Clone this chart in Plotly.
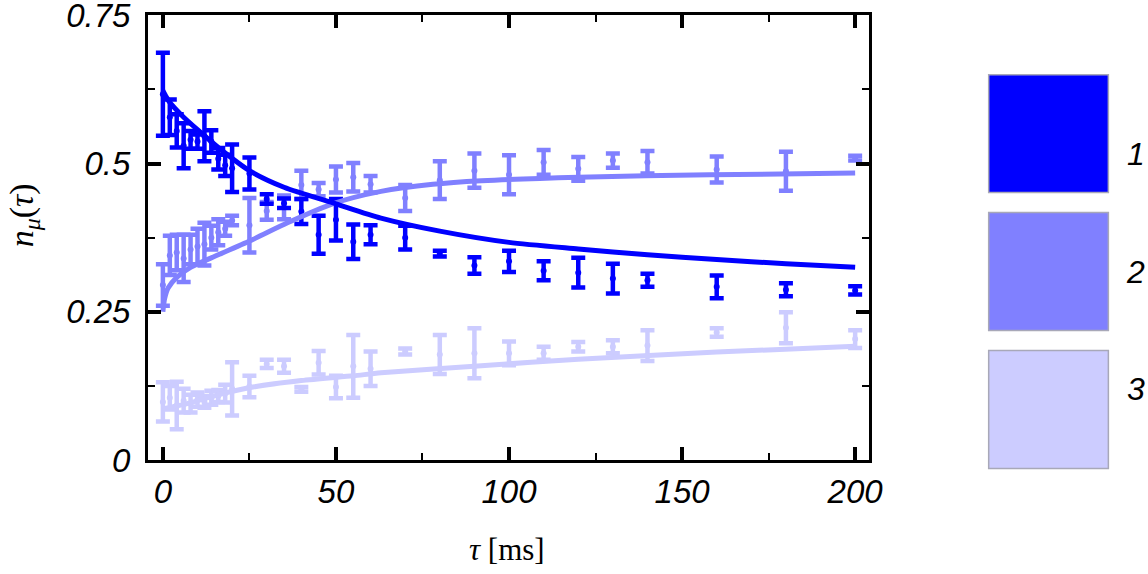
import plotly.graph_objects as go

# measured times (ms)
tau = [0, 2, 4, 6, 8, 10, 12, 14, 16, 18, 20, 25, 30, 35, 40, 45, 50, 55, 60,
       70, 80, 90, 100, 110, 120, 130, 140, 160, 180, 200]

# population of state 1, 2, 3 with error bars
n1 = [0.617, 0.578, 0.555, 0.530, 0.540, 0.537, 0.546, 0.537, 0.508, 0.497, 0.492,
      0.483, 0.440, 0.433, 0.419, 0.380, 0.405, 0.368, 0.380, 0.375, 0.348, 0.328,
      0.335, 0.319, 0.316, 0.306, 0.303, 0.292, 0.287, 0.286]
e1 = [0.070, 0.030, 0.028, 0.038, 0.015, 0.012, 0.042, 0.019, 0.018, 0.018, 0.040,
      0.027, 0.008, 0.008, 0.021, 0.032, 0.035, 0.029, 0.016, 0.020, 0.005, 0.014,
      0.018, 0.016, 0.025, 0.025, 0.011, 0.019, 0.011, 0.007]

n2 = [0.295, 0.345, 0.350, 0.340, 0.355, 0.360, 0.364, 0.375, 0.384, 0.390, 0.404,
      0.396, 0.420, 0.426, 0.464, 0.456, 0.473, 0.477, 0.465, 0.442, 0.472, 0.488,
      0.481, 0.502, 0.491, 0.505, 0.502, 0.490, 0.487, 0.509]
e2 = [0.035, 0.033, 0.030, 0.040, 0.025, 0.030, 0.036, 0.020, 0.022, 0.012, 0.008,
      0.046, 0.015, 0.020, 0.024, 0.011, 0.022, 0.024, 0.014, 0.022, 0.032, 0.029,
      0.033, 0.021, 0.020, 0.012, 0.019, 0.022, 0.033, 0.004]

n3 = [0.098, 0.105, 0.092, 0.100, 0.095, 0.102, 0.098, 0.105, 0.108, 0.112, 0.120,
      0.124, 0.162, 0.158, 0.119, 0.164, 0.123, 0.158, 0.154, 0.183, 0.178, 0.180,
      0.180, 0.180, 0.191, 0.191, 0.193, 0.215, 0.223, 0.204]
e3 = [0.033, 0.020, 0.040, 0.020, 0.015, 0.012, 0.010, 0.012, 0.010, 0.015, 0.045,
      0.018, 0.007, 0.011, 0.004, 0.020, 0.019, 0.053, 0.029, 0.005, 0.033, 0.042,
      0.020, 0.011, 0.008, 0.011, 0.026, 0.007, 0.026, 0.015]

# fitted curves
fit1_t = [0, 1, 2, 4, 6, 10, 16, 25, 35, 50, 63, 80, 100, 120, 140, 160, 180, 200]
fit1_y = [0.623, 0.612, 0.603, 0.590, 0.578, 0.557, 0.527, 0.488, 0.460, 0.432,
          0.408, 0.386, 0.367, 0.356, 0.346, 0.338, 0.331, 0.325]
fit2_t = [0, 0.5, 1.5, 4, 8, 16, 26, 36, 49, 63, 78, 92, 120, 158, 200]
fit2_y = [0.250, 0.272, 0.290, 0.308, 0.325, 0.346, 0.372, 0.400, 0.432, 0.453,
          0.465, 0.471, 0.477, 0.481, 0.484]
fit3_t = [0, 3, 7, 16, 26, 40, 55, 63, 92, 120, 160, 200]
fit3_y = [0.086, 0.090, 0.095, 0.110, 0.123, 0.134, 0.142, 0.147, 0.159, 0.170,
          0.182, 0.192]

labels = ["1", "2", "3"]
colors = ["#0000ff", "#8080ff", "#ccccff"]

series = [(n1, e1), (n2, e2), (n3, e3)]
fits = [(fit1_t, fit1_y), (fit2_t, fit2_y), (fit3_t, fit3_y)]

fig = go.Figure()

# error bar data, lightest first so the dark one sits on top
for i in [2, 1, 0]:
    y, e = series[i]
    fig.add_trace(go.Scatter(
        x=tau, y=y, mode="markers",
        marker=dict(color=colors[i], size=6),
        error_y=dict(type="data", array=e, color=colors[i], thickness=4.5, width=7),
        showlegend=False,
    ))

for i in [2, 1, 0]:
    t, y = fits[i]
    fig.add_trace(go.Scatter(
        x=t, y=y, mode="lines",
        line=dict(color=colors[i], width=5, shape="spline", smoothing=0.7),
        showlegend=False,
    ))

tick_font = dict(family="Liberation Sans, Arial", size=33, color="black", style="italic")

fig.update_xaxes(
    range=[-4.3, 204], tickvals=[0, 50, 100, 150, 200],
    ticks="inside", ticklen=13, tickwidth=4, tickcolor="black",
    minor=dict(ticks="inside", ticklen=7, tickwidth=2, dtick=25, tick0=0, tickcolor="black"),
    showline=True, linewidth=3, linecolor="black", mirror="allticks",
    showgrid=False, zeroline=False, tickfont=tick_font, ticklabelstandoff=0,
    ticklabeloverflow="allow", automargin=False,
)
fig.update_yaxes(
    range=[0, 0.7505], tickvals=[0, 0.25, 0.5, 0.75], ticktext=["0", "0.25", "0.5", "0.75"],
    ticks="inside", ticklen=13, tickwidth=4, tickcolor="black",
    minor=dict(ticks="inside", ticklen=7, tickwidth=2, dtick=0.125, tick0=0, tickcolor="black"),
    showline=True, linewidth=3, linecolor="black", mirror="allticks",
    showgrid=False, zeroline=False, tickfont=tick_font, ticklabelstandoff=8,
    ticklabeloverflow="allow", automargin=False,
)

# legend drawn as big swatches to the right
box_y = [(0.866, 0.601), (0.556, 0.291), (0.246, -0.019)]
shapes = []
annotations = []
for i in range(3):
    top, bot = box_y[i]
    shapes.append(dict(type="rect", xref="paper", yref="paper",
                       x0=1.166, x1=1.332, y0=bot, y1=top,
                       fillcolor=colors[i], line=dict(color="#a8a8b8", width=1.5)))
    annotations.append(dict(xref="paper", yref="paper", x=1.37, y=(top + bot) / 2,
                            text=labels[i], showarrow=False, xanchor="center",
                            font=dict(family="Liberation Sans, Arial", size=32,
                                      color="black", style="italic")))

annotations.append(dict(xref="paper", yref="paper", x=0.498, y=-0.2,
                        text="<i>τ</i> [ms]", showarrow=False, yanchor="middle",
                        font=dict(family="Liberation Serif, serif", size=31, color="black")))
annotations.append(dict(xref="paper", yref="paper", x=-0.172, y=0.55,
                        text="<i>n</i><sub><i>μ</i></sub>(<i>τ</i>)", showarrow=False,
                        textangle=-90, xanchor="center", yanchor="middle",
                        font=dict(family="Liberation Serif, serif", size=34, color="black")))

fig.update_layout(
    width=1148, height=574,
    margin=dict(l=148, r=279, t=15, b=114, autoexpand=False),
    plot_bgcolor="white", paper_bgcolor="white",
    shapes=shapes, annotations=annotations,
    showlegend=False,
)

fig.write_html("out.html", config={"displayModeBar": False},
               post_script="document.body.style.margin='0';")
